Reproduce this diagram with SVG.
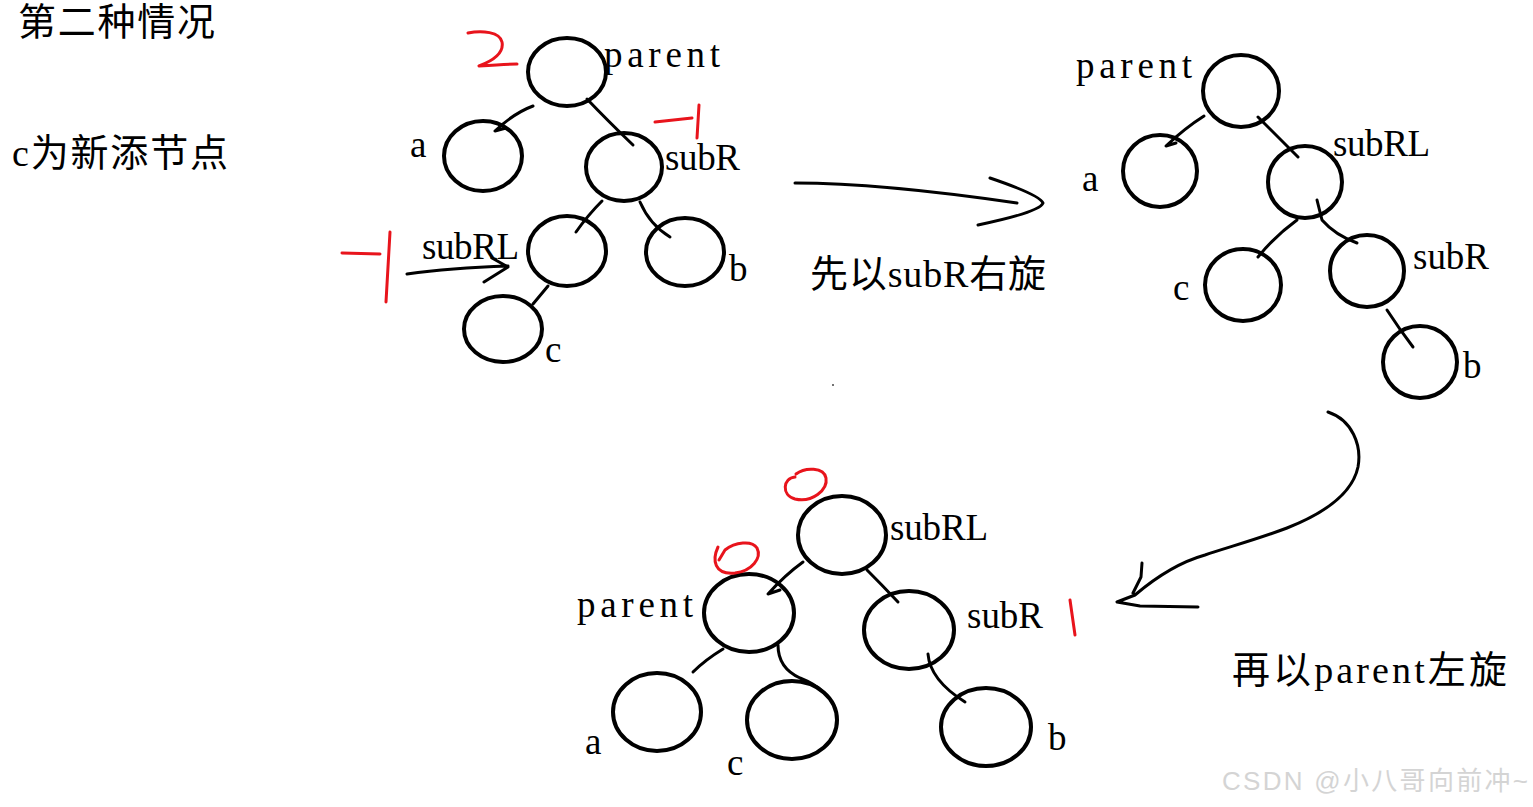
<svg xmlns="http://www.w3.org/2000/svg" width="1533" height="807" viewBox="0 0 1533 807">
<style>
.n{fill:none;stroke:#000;stroke-width:4}
.lb{font-family:"Liberation Serif","Noto Sans CJK SC",serif;font-size:37px;fill:#000}
.cj{font-family:"Liberation Serif","Noto Sans CJK SC",serif;font-size:38px;fill:#000}
.c{fill:none;stroke:#000;stroke-width:3;stroke-linecap:round;stroke-linejoin:round}
.r{fill:none;stroke:#e8141c;stroke-width:3;stroke-linecap:round;stroke-linejoin:round}
.wm{font-family:"Liberation Sans","Noto Sans CJK SC",sans-serif;font-size:26px;fill:#d4d4d4}
</style>
<rect width="1533" height="807" fill="#fff"/>
<text class="cj" x="18" y="35" textLength="197" lengthAdjust="spacing">第二种情况</text>
<text class="cj" x="12" y="166" textLength="216" lengthAdjust="spacing">c为新添节点</text>
<text class="cj" x="810" y="287" textLength="236" lengthAdjust="spacing">先以subR右旋</text>
<text class="cj" x="1232" y="683" textLength="275" lengthAdjust="spacing">再以parent左旋</text>

<g id="connectors">
<path class="c" d="M533,106 Q514,113 495,131 L506,128"/>
<path class="c" d="M587,99 Q607,120 633,145"/>
<path class="c" d="M602,201 Q588,215 576,232"/>
<path class="c" d="M640,202 Q650,225 670,237"/>
<path class="c" d="M548,286 L533,304"/>
<path class="c" d="M407,274 Q450,268 508,266 M492,258 L508,267 L484,282"/>
<path class="c" d="M1204,116 Q1185,128 1166,146 L1176,143"/>
<path class="c" d="M1258,117 Q1276,135 1298,157"/>
<path class="c" d="M1297,220 Q1275,236 1258,257"/>
<path class="c" d="M1317,200 L1322,220 Q1335,235 1357,243"/>
<path class="c" d="M1387,310 Q1400,330 1413,347"/>
<path class="c" d="M795,183 Q880,183 1017,203 M990,178 Q1040,195 1043,203 Q1040,212 978,225"/>
<path class="c" d="M1328,412 C1352,420 1362,445 1358,467 C1352,495 1320,515 1287,528 C1255,540 1225,548 1205,555 C1180,562 1155,578 1135,595 L1117,602 L1140,606 L1198,607 M1142,563 L1141,577 L1133,593"/>
<path class="c" d="M803,562 Q785,575 768,594 L780,590"/>
<path class="c" d="M867,570 Q882,585 898,602"/>
<path class="c" d="M723,649 Q705,660 693,672"/>
<path class="c" d="M778,645 Q778,668 800,678 Q815,684 823,692"/>
<path class="c" d="M928,654 Q930,680 965,702"/>
</g>

<g id="t1-parent"><ellipse class="n" cx="567" cy="72" rx="39" ry="34"/><text class="lb" x="604" y="67" textLength="116" lengthAdjust="spacing">parent</text></g>
<g id="t1-a"><ellipse class="n" cx="483" cy="156" rx="39" ry="35"/><text class="lb" x="410" y="157">a</text></g>
<g id="t1-subR"><ellipse class="n" cx="624" cy="167" rx="38" ry="34"/><text class="lb" x="665" y="170" textLength="75" lengthAdjust="spacing">subR</text></g>
<g id="t1-subRL"><ellipse class="n" cx="567" cy="251" rx="39" ry="35"/><text class="lb" x="422" y="259" textLength="97" lengthAdjust="spacing">subRL</text></g>
<g id="t1-b"><ellipse class="n" cx="685" cy="252" rx="39" ry="34"/><text class="lb" x="729" y="281">b</text></g>
<g id="t1-c"><ellipse class="n" cx="503" cy="329" rx="39" ry="33"/><text class="lb" x="545" y="362">c</text></g>

<g id="t2-parent"><ellipse class="n" cx="1241" cy="91" rx="38" ry="36"/><text class="lb" x="1076" y="78" textLength="116" lengthAdjust="spacing">parent</text></g>
<g id="t2-a"><ellipse class="n" cx="1160" cy="171" rx="37" ry="36"/><text class="lb" x="1082" y="191">a</text></g>
<g id="t2-subRL"><ellipse class="n" cx="1305" cy="182" rx="37" ry="36"/><text class="lb" x="1333" y="156" textLength="97" lengthAdjust="spacing">subRL</text></g>
<g id="t2-c"><ellipse class="n" cx="1243" cy="285" rx="38" ry="36"/><text class="lb" x="1173" y="300">c</text></g>
<g id="t2-subR"><ellipse class="n" cx="1367" cy="271" rx="37" ry="36"/><text class="lb" x="1413" y="269" textLength="76" lengthAdjust="spacing">subR</text></g>
<g id="t2-b"><ellipse class="n" cx="1420" cy="362" rx="37" ry="36"/><text class="lb" x="1463" y="378">b</text></g>

<g id="t3-subRL"><ellipse class="n" cx="842" cy="535" rx="44" ry="39"/><text class="lb" x="890" y="540" textLength="98" lengthAdjust="spacing">subRL</text></g>
<g id="t3-parent"><ellipse class="n" cx="749" cy="613" rx="45" ry="39"/><text class="lb" x="577" y="617" textLength="116" lengthAdjust="spacing">parent</text></g>
<g id="t3-subR"><ellipse class="n" cx="909" cy="630" rx="45" ry="39"/><text class="lb" x="967" y="628" textLength="76" lengthAdjust="spacing">subR</text></g>
<g id="t3-a"><ellipse class="n" cx="657" cy="712" rx="44" ry="39"/><text class="lb" x="585" y="754">a</text></g>
<g id="t3-c"><ellipse class="n" cx="792" cy="720" rx="45" ry="39"/><text class="lb" x="727" y="775">c</text></g>
<g id="t3-b"><ellipse class="n" cx="986" cy="727" rx="45" ry="39"/><text class="lb" x="1048" y="750">b</text></g>

<g id="annotations">
<path class="r" d="M468,33 C482,30 500,32 502,42 C504,52 495,60 479,66 C492,65 505,64 517,64"/>
<path class="r" d="M655,122 L692,118 M699,105 L697,138"/>
<path class="r" d="M342,253 L380,254 M390,232 L386,302"/>
<path class="r" d="M795,477 C783,478 781,495 795,499 C812,503 828,490 826,478 C824,467 805,467 796,474"/>
<path class="r" d="M718,547 C712,560 714,575 735,573 C752,571 762,558 757,548 C752,540 735,542 725,550 L719,560"/>
<path class="r" d="M1070,600 L1075,635"/>
<circle cx="833" cy="385" r="1" fill="#444"/>
</g>
<text class="wm" x="1222" y="790" textLength="306" lengthAdjust="spacing">CSDN @小八哥向前冲~</text>
</svg>
